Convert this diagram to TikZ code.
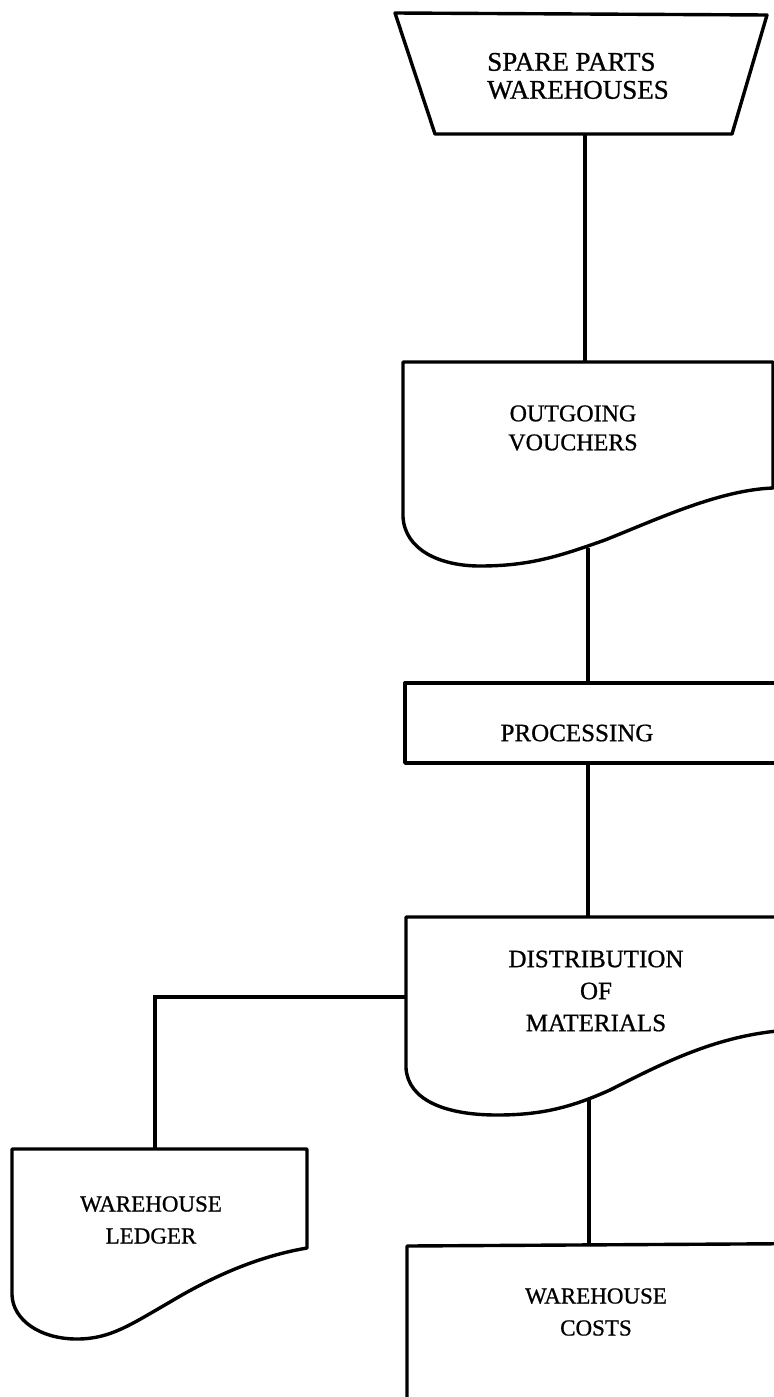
\documentclass[tikz,border=0pt]{standalone}
\usepackage{fontspec}
\setmainfont{Liberation Serif}[FakeBold=0.8]
\begin{document}
\begin{tikzpicture}[x=0.5pt,y=-0.5pt,
  outline/.style={line width=1.7pt,line join=round},
  link/.style={line width=1.6pt},
  label/.style={font=\fontsize{12}{15.5}\selectfont,align=center,inner sep=0pt}]
\useasboundingbox (0,0) rectangle (774,1397);
\fill[white] (0,0) rectangle (774,1397);
\clip (0,0) rectangle (774,1397);

% spare parts warehouses (trapezoid)
\draw[outline] (395,13) -- (767,15) -- (732,134) -- (435,134) -- cycle;
\node[label,align=left,font=\fontsize{13.5}{14}\selectfont] (spw) at (578,76) {SPARE PARTS\\WAREHOUSES};
\coordinate (spw-b) at (585,134);

% outgoing vouchers (document)
\draw[outline] (403,362) -- (773,362) -- (773,488)
  .. controls (720,490) and (660,518) .. (605,540)
  .. controls (560,556) and (530,566) .. (480,566)
  .. controls (440,566) and (405,550) .. (403,517) -- cycle;
\node[label,font=\fontsize{12}{14.5}\selectfont] (ov) at (573,428) {OUTGOING\\VOUCHERS};
\coordinate (ov-t) at (585,362);
\coordinate (ov-b) at (588,548);

% processing
\draw[outline] (900,683) -- (405,683) -- (405,763) -- (900,763);
\node[label,font=\fontsize{12.5}{15}\selectfont] (proc) at (577,733) {PROCESSING};
\coordinate (proc-t) at (588,683);
\coordinate (proc-b) at (588,763);

% distribution of materials (document)
\draw[outline] (900,1030) -- (900,917) -- (406,917) -- (406,1068)
  .. controls (408,1100) and (445,1115) .. (497,1115)
  .. controls (540,1115) and (570,1108) .. (610,1090)
  .. controls (665,1062) and (720,1034) .. (790,1030) -- cycle;
\node[label,font=\fontsize{12.5}{16}\selectfont] (dist) at (596,991) {DISTRIBUTION\\OF\\MATERIALS};
\coordinate (dist-t) at (588,917);
\coordinate (dist-b) at (589,1099);
\coordinate (dist-l) at (406,997);

% warehouse ledger (document)
\draw[outline] (12,1149) -- (307,1149) -- (307,1248)
  .. controls (260,1256) and (215,1275) .. (170,1302)
  .. controls (130,1325) and (110,1339) .. (77,1339)
  .. controls (40,1339) and (13,1320) .. (12,1295) -- cycle;
\node[label,font=\fontsize{11.5}{16}\selectfont] (led) at (151,1220) {WAREHOUSE\\LEDGER};
\coordinate (led-t) at (155,1149);

% warehouse costs
\draw[outline] (407,1420) -- (407,1246) -- (900,1243);
\node[label,font=\fontsize{11.5}{16}\selectfont] (cost) at (596,1312) {WAREHOUSE\\COSTS};
\coordinate (cost-t) at (589,1244);

% connectors
\draw[link] (spw-b) -- (ov-t);
\draw[link] (ov-b) -- (proc-t);
\draw[link] (proc-b) -- (dist-t);
\draw[link] (dist-b) -- (cost-t);
\draw[link] (dist-l) -| (led-t);
\end{tikzpicture}
\end{document}
